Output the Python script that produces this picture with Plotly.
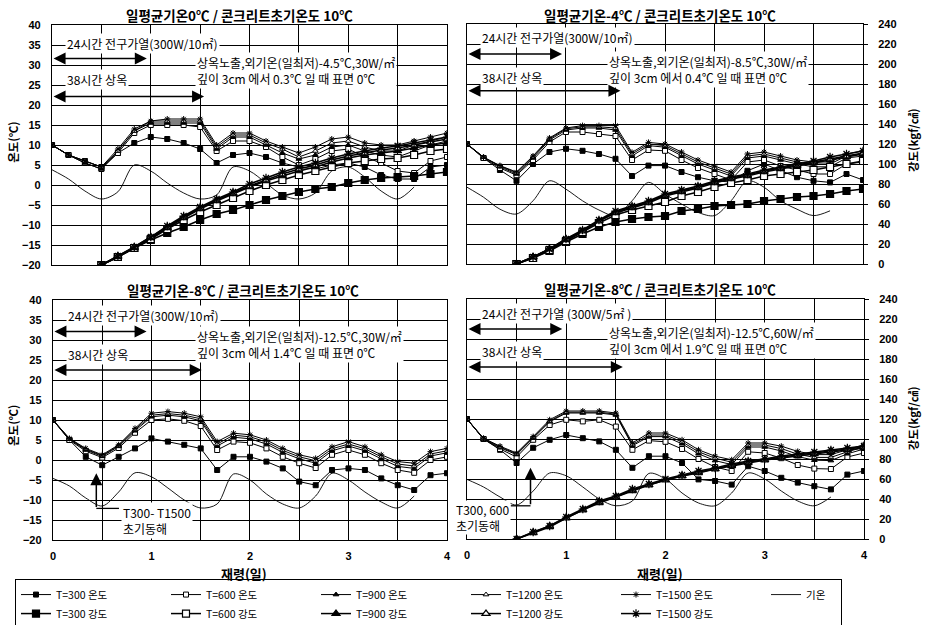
import plotly.graph_objects as go

# ---------------- data ----------------
days = [0, 0.167, 0.333, 0.5, 0.667, 0.833, 1.0, 1.167, 1.333, 1.5, 1.667, 1.833, 2.0,
        2.167, 2.333, 2.5, 2.667, 2.833, 3.0, 3.167, 3.333, 3.5, 3.667, 3.833, 4.0]
series_names = ["T=300", "T=600", "T=900", "T=1200", "T=1500"]

# panel 1 : 일평균기온 0℃
p1_air = [3.8, 1.5, -1.5, -3.5, -1.7, 5.0, 3.5, 0.5, -2.0, -3.5, -2.5, 4.5, 3.5, 0.5, -2.5, -3.5, -2.0, 3.5, 4.5, 2.0, -1.5, -3.5, -0.5]
p1_temp_300 = [10, 7.5, 6, 4.5, 8, 10.5, 12, 11.5, 10.5, 9, 5.5, 7.5, 8, 7, 5.5, 4.5, 4, 5, 5.5, 4.5, 2.5, 1.5, 1.5, 4.5, 5]
p1_temp_600 = [10, 7.5, 5.5, 4, 8, 13, 15, 15, 15, 14.5, 8.5, 11, 11, 9.5, 7, 5, 6.5, 8.5, 9, 7, 5.5, 3.5, 3, 6, 7]
p1_temp_900 = [10, 7.5, 5.5, 4, 8.5, 13.5, 15.5, 15.5, 15.5, 15.5, 9, 12, 12, 10, 8, 6.5, 7.5, 9.5, 10, 8.5, 7.5, 7, 8.5, 10, 11]
p1_temp_1200 = [10, 7.5, 6, 4.5, 8.5, 13.5, 16, 16, 16, 16, 9.5, 12.5, 12.5, 10.5, 9, 7, 8.5, 10.5, 11, 9.5, 8.5, 8.5, 10, 11, 12]
p1_temp_1500 = [10, 7.5, 6, 4.5, 9, 14, 16, 16.5, 16.5, 16.5, 10, 13, 13, 11, 9.5, 8, 9.5, 11.5, 12, 10.5, 10, 10, 11, 12, 13]
p1_str_300 = [0, 8, 17, 25, 32, 38, 45, 51, 55, 60, 65, 69, 73, 76, 78, 82, 85, 87, 88, 89, 91, 93]
p1_str_600 = [0, 8, 17, 26, 36, 45, 53, 60, 67, 74, 80, 85, 90, 94, 98, 102, 104, 106, 107, 110, 114, 116]
p1_str_900 = [0, 8, 17, 27, 37, 47, 56, 64, 71, 78, 84, 89, 94, 98, 103, 107, 110, 112, 114, 117, 120, 122]
p1_str_1200 = [0, 9, 18, 28, 38, 48, 57, 65, 72, 79, 85, 91, 96, 100, 105, 109, 112, 115, 117, 120, 123, 126]
p1_str_1500 = [0, 9, 18, 28, 39, 49, 58, 66, 73, 81, 87, 93, 98, 102, 107, 111, 114, 117, 119, 122, 125, 128]

# panel 2 : 일평균기온 -4℃
p2_air = [-0.8, -3.3, -6.3, -7.5, -4.2, 0.8, -1.3, -4.2, -6.5, -7.9, -4.2, 0.4, -2.5, -5.0, -7.1, -7.9, -4.2, 0.8, -0.8, -4.2, -6.3, -7.9, -6.7]
p2_temp_300 = [10, 6.5, 3.5, 0.8, 5, 8, 8.8, 8.3, 7.5, 6.3, 2, 4.6, 4.6, 3, 1.7, 0.8, 0.5, 3.3, 5, 3.3, 1.7, 0.8, 0.4, 2.5, 1]
p2_temp_600 = [10, 6.5, 4, 2.2, 6, 10.5, 13, 13, 12.5, 12, 6, 8.5, 8.3, 6, 4, 2.5, 1, 5.5, 6, 4.5, 3.5, 2.5, 2.5, 5, 5.5]
p2_temp_900 = [10, 6.7, 4.3, 2.5, 6.5, 11, 13.5, 14, 14, 13.5, 7, 9.6, 9.2, 7, 5, 3.5, 2, 6.5, 7, 6, 5, 4.3, 4.3, 6.5, 7]
p2_temp_1200 = [10, 6.7, 4.5, 2.8, 6.8, 11.3, 13.8, 14.3, 14.3, 14, 7.5, 10, 9.6, 7.5, 5.5, 4, 2.5, 7, 7.5, 6.5, 5.5, 5, 5, 7, 7.5]
p2_temp_1500 = [10, 6.7, 4.6, 3, 7, 11.5, 14, 14.6, 14.6, 14.6, 7.9, 10.4, 10, 8, 6, 4.5, 3, 7.5, 8, 7, 6, 5.5, 5.5, 7.5, 8.3]
p2_str_300 = [0, 6, 13, 22, 30, 37, 42, 45, 47, 48, 53, 55, 58, 59, 60, 63, 65, 67, 68, 70, 73, 75]
p2_str_600 = [0, 6, 14, 23, 32, 41, 49, 54, 58, 62, 68, 72, 77, 81, 84, 88, 90, 92, 94, 97, 100, 103]
p2_str_900 = [0, 7, 15, 24, 33, 43, 51, 56, 61, 68, 72, 76, 81, 85, 88, 92, 95, 98, 101, 104, 107, 110]
p2_str_1200 = [0, 7, 15, 25, 33, 43, 52, 57, 62, 69, 73, 77, 82, 86, 89, 93, 96, 99, 102, 105, 108, 111]
p2_str_1500 = [0, 7, 15, 25, 34, 44, 53, 58, 63, 70, 74, 78, 83, 87, 90, 94, 97, 100, 103, 107, 110, 113]

# panel 3 : 일평균기온 -8℃ (30W)  -- 강도 없음 (초기동해)
p3_air = [-4.6, -6.5, -9.5, -11.5, -8.0, -3.2, -4.2, -7.0, -10.0, -12.0, -11.0, -3.5, -5.0, -8.5, -11.0, -12.0, -9.0, -3.3, -5.0, -8.0, -10.5, -12.0, -9.0]
p3_temp_300 = [10, 5, 0.8, -1.3, 0.8, 2.9, 5.4, 4.6, 3.8, 2.9, -2.5, 0.8, 0.8, -0.4, -2.1, -5.4, -6.3, -2.5, -2.1, -2.5, -4.6, -6.3, -7.5, -3.8, -3.3]
p3_temp_600 = [10, 5, 2.2, 0.6, 3, 6.8, 10, 10.3, 9.8, 8.5, 2.5, 4.6, 4.3, 2.9, 0.8, -0.8, -2, 1.3, 2.5, 1.3, -0.8, -2.5, -3.2, 0, 0.8]
p3_temp_900 = [10, 5.2, 2.5, 0.9, 3.4, 7.3, 10.8, 11.2, 10.8, 9.8, 3.5, 5.7, 5.3, 4, 1.9, 0.3, -0.8, 2.3, 3.5, 2.3, 0.3, -1.6, -2.1, 1, 1.8]
p3_temp_1200 = [10, 5.3, 2.7, 1.1, 3.6, 7.6, 11.2, 11.6, 11.2, 10.3, 4, 6.2, 5.8, 4.5, 2.4, 0.8, -0.2, 2.8, 4, 2.8, 0.8, -1, -1.5, 1.5, 2.3]
p3_temp_1500 = [10, 5.4, 2.9, 1.3, 3.8, 7.9, 11.7, 12.1, 11.7, 10.8, 4.6, 6.7, 6.3, 5, 2.9, 1.3, 0.4, 3.3, 4.6, 3.3, 1.3, -0.4, -0.8, 2.1, 2.9]

# panel 4 : 일평균기온 -8℃ (60W)  -- T300, T600 강도 없음
p4_air = [-5.1, -7.0, -9.5, -11.5, -8.0, -3.5, -4.2, -7.0, -10.0, -11.7, -10.5, -3.6, -5.0, -8.5, -11.0, -11.7, -8.5, -3.5, -5.0, -8.0, -10.5, -11.7, -9.5]
p4_temp_300 = [10, 5, 2.3, -1, 2.8, 4.8, 6, 5.2, 4.4, 2.3, -2.2, 0.7, 0.7, -1, -5.1, -5.5, -6.4, -1.8, -3, -4.7, -5.9, -6.8, -7.6, -3.9, -3]
p4_temp_600 = [10, 5, 2.5, 0.5, 4.8, 8.5, 9.8, 9.4, 9.8, 8.1, 2.3, 4.6, 4.3, 2.5, 0, -2, -3, 1.8, 1.5, 0.2, -1.5, -2.4, -2.5, 0.5, 1.5]
p4_temp_900 = [10, 5, 2.8, 1.1, 5.2, 9.3, 11.5, 11.5, 11.5, 11, 3.3, 5.6, 5.6, 3.8, 1.3, -0.4, -1.4, 3, 3, 2, 0.6, -0.3, -0.4, 1.3, 2.5]
p4_temp_1200 = [10, 5.1, 3, 1.3, 5.4, 9.5, 11.7, 11.7, 11.7, 11.2, 3.6, 6, 6, 4.3, 1.8, 0.2, -0.8, 3.5, 3.5, 2.6, 1.2, 0.4, 0.4, 1.8, 3]
p4_temp_1500 = [10, 5.2, 3.2, 1.5, 5.6, 9.8, 12, 12, 12, 11.5, 4, 6.5, 6.5, 4.8, 2.3, 0.7, -0.2, 4, 4, 3.2, 1.9, 1.1, 1.1, 2.3, 3.6]
p4_str_900 = [0, 6, 12, 21, 29, 36, 42, 48, 54, 59, 63, 66, 70, 73, 76, 79, 81, 83, 85, 87, 89, 91]
p4_str_1200 = [0, 6.5, 13, 21, 29, 37, 42, 49, 54, 59, 63, 67, 70, 74, 77, 79, 82, 84, 86, 88, 90, 92]
p4_str_1500 = [0, 7, 13, 22, 30, 38, 43, 50, 55, 60, 64, 68, 71, 75, 78, 80, 83, 85, 87, 89, 91, 93]

titles = ["일평균기온0℃ / 콘크리트초기온도 10℃", "일평균기온-4℃ / 콘크리트초기온도 10℃",
          "일평균기온-8℃ / 콘크리트초기온도 10℃", "일평균기온-8℃ / 콘크리트초기온도 10℃"]
heat_texts = ["24시간 전구가열(300W/10㎡)", "24시간 전구가열(300W/10㎡)",
              "24시간 전구가열(300W/10㎡)", "24시간 전구가열 (300W/5㎡ )"]
exp_texts = ["상옥노출,외기온(일최저)-4.5℃,30W/㎡", "상옥노출,외기온(일최저)-8.5℃,30W/㎡",
             "상옥노출,외기온(일최저)-12.5℃,30W/㎡", "상옥노출,외기온(일최저)-12.5℃,60W/㎡"]
depth_texts = ["깊이 3cm 에서 0.3℃ 일 때 표면 0℃", "깊이 3cm 에서 0.4℃ 일 때 표면 0℃",
               "깊이 3cm 에서 1.4℃ 일 때 표면 0℃", "깊이 3cm 에서 1.9℃ 일 때 표면 0℃"]
x_ticks = [0, 0.5, 1, 1.5, 2, 2.5, 3, 3.5, 4]
x_ticktext = ["0", "", "1", "", "2", "", "3", "", "4"]

panels = [
    dict(air=p1_air, temps=[p1_temp_300, p1_temp_600, p1_temp_900, p1_temp_1200, p1_temp_1500],
         strs=[p1_str_300, p1_str_600, p1_str_900, p1_str_1200, p1_str_1500]),
    dict(air=p2_air, temps=[p2_temp_300, p2_temp_600, p2_temp_900, p2_temp_1200, p2_temp_1500],
         strs=[p2_str_300, p2_str_600, p2_str_900, p2_str_1200, p2_str_1500]),
    dict(air=p3_air, temps=[p3_temp_300, p3_temp_600, p3_temp_900, p3_temp_1200, p3_temp_1500],
         strs=[None, None, None, None, None]),
    dict(air=p4_air, temps=[p4_temp_300, p4_temp_600, p4_temp_900, p4_temp_1200, p4_temp_1500],
         strs=[None, None, p4_str_900, p4_str_1200, p4_str_1500]),
]

# ---------------- styling ----------------
KR = "Noto Sans CJK KR"
NUM = "Liberation Sans"
symbols = ["square", "square", "triangle-up", "triangle-up", "asterisk-open"]
fills = ["black", "white", "black", "white", "black"]

x_domains = [[0.0562, 0.4827], [0.5043, 0.9320], [0.0572, 0.4827], [0.5043, 0.9330]]
y_domains = [[0.576, 0.960], [0.5776, 0.9616], [0.136, 0.520], [0.1376, 0.5216]]

fig = go.Figure()
layout = dict(width=926, height=625, margin=dict(l=0, r=0, t=0, b=0, autoexpand=False),
              paper_bgcolor="white", plot_bgcolor="white", showlegend=True)

tickfont = dict(family=NUM, size=11, color="black", weight="bold")

for k, p in enumerate(panels):
    xa = "x" if k == 0 else f"x{k + 1}"
    yt = "y" if k == 0 else f"y{2 * k + 1}"
    ys = f"y{2 * k + 2}"
    first = (k == 0)
    for j, name in enumerate(series_names):
        fig.add_trace(go.Scatter(
            x=days, y=p["temps"][j], xaxis=xa, yaxis=yt, mode="lines+markers",
            name=f"{name} 온도", legendgroup=f"t{j}", showlegend=first, legendrank=j + 1,
            line=dict(color="black", width=1),
            marker=dict(symbol=symbols[j], size=5, color=fills[j],
                        line=dict(color="black", width=1))))
    fig.add_trace(go.Scatter(
        x=days[:len(p["air"])], y=p["air"], xaxis=xa, yaxis=yt, mode="lines",
        name="기온", legendgroup="air", showlegend=first, legendrank=6, legendwidth=30,
        line=dict(color="black", width=0.9, shape="spline", smoothing=0.9)))
    for j, name in enumerate(series_names):
        s = p["strs"][j]
        if s is None:
            continue
        fig.add_trace(go.Scatter(
            x=days[3:], y=s, xaxis=xa, yaxis=ys, mode="lines+markers",
            name=f"{name} 강도", legendgroup=f"s{j}", showlegend=first, legendrank=7 + j,
            line=dict(color="black", width=1.5),
            marker=dict(symbol=symbols[j], size=7, color=fills[j],
                        line=dict(color="black", width=1.2))))

    xkey = "xaxis" if k == 0 else f"xaxis{k + 1}"
    ytkey = "yaxis" if k == 0 else f"yaxis{2 * k + 1}"
    yskey = f"yaxis{2 * k + 2}"
    bottom = k >= 2
    left = k % 2 == 0
    layout[xkey] = dict(domain=x_domains[k], anchor=yt, range=[0, 4], tickvals=x_ticks,
                        ticktext=x_ticktext, showticklabels=bottom, ticks="",
                        ticklabelstandoff=6, tickfont=tickfont, automargin=False,
                        showgrid=True, gridcolor="black", gridwidth=0.8, zeroline=False,
                        showline=True, mirror=True, linecolor="black", linewidth=1.3)
    layout[ytkey] = dict(domain=y_domains[k], anchor=xa, range=[-20, 40], dtick=5,
                         showticklabels=left, ticks="", ticklabelstandoff=8, tickfont=tickfont,
                         automargin=False,
                         showgrid=True, gridcolor="black", gridwidth=0.8, zeroline=False,
                         showline=True, mirror=True, linecolor="black", linewidth=1.3)
    layout[yskey] = dict(overlaying=yt, anchor=xa, side="right", range=[0, 240], dtick=20,
                         showticklabels=not left, ticks="" if left else "outside", ticklen=4,
                         tickcolor="black", ticklabelstandoff=8, tickfont=tickfont,
                         automargin=False,
                         showgrid=False, zeroline=False, showline=False)

layout["legend"] = dict(orientation="h", x=0.0162, y=0.0735, xanchor="left", yanchor="top",
                        bordercolor="black", borderwidth=1, bgcolor="white",
                        entrywidth=105, entrywidthmode="pixels", traceorder="normal",
                        font=dict(family=KR, size=10.5, color="black"), itemwidth=30,
                        tracegroupgap=0)

ann = []
title_pos = [(0.259, 0.976), (0.713, 0.976), (0.262, 0.536), (0.713, 0.5376)]
for k, (tx, ty) in enumerate(title_pos):
    ann.append(dict(text=titles[k], x=tx, y=ty, xref="paper", yref="paper", showarrow=False,
                    xanchor="center", yanchor="middle",
                    font=dict(family=KR, size=13.5, color="black", weight="bold")))
for (tx, ty, txt) in [(0.014, 0.773, "온도(℃)"), (0.014, 0.32, "온도(℃)"),
                      (0.986, 0.776, "강도(kgf/㎠)"), (0.986, 0.331, "강도(kgf/㎠)")]:
    ann.append(dict(text=txt, x=tx, y=ty, xref="paper", yref="paper", showarrow=False,
                    xanchor="center", yanchor="middle", textangle=-90,
                    font=dict(family=KR, size=11.5, color="black", weight="bold")))
for tx in [0.263, 0.713]:
    ann.append(dict(text="재령(일)", x=tx, y=0.083, xref="paper", yref="paper", showarrow=False,
                    xanchor="center", yanchor="middle",
                    font=dict(family=KR, size=13, color="black", weight="bold")))

txt_font = dict(family=KR, size=12, color="black")
heat_y = [35.4, 36.5, 36.2, 36.3]
arr1_y = [31.6, 32.5, 32.1, 32.5]
cure_y = [26.3, 26.7, 26.3, 26.8]
arr2_y = [22.1, 23.3, 22.5, 23.0]
arr1_end = [0.96, 0.96, 0.95, 0.96]
arr2_end = [1.54, 1.55, 1.51, 1.57]
exp_y = [30.4, 30.4, 30.8, 31.7]
dep_y = [26.7, 27.1, 27.1, 27.6]
text_x = [1.45, 1.41, 1.44, 1.41]
for k in range(4):
    xa = "x" if k == 0 else f"x{k + 1}"
    yt = "y" if k == 0 else f"y{2 * k + 1}"
    ann.append(dict(text=heat_texts[k], x=0.13, y=heat_y[k], xref=xa, yref=yt, xanchor="left",
                    showarrow=False, bgcolor="white", font=txt_font))
    ann.append(dict(text="38시간 상옥", x=0.13, y=cure_y[k], xref=xa, yref=yt, xanchor="left",
                    showarrow=False, bgcolor="white", font=txt_font))
    ann.append(dict(text=exp_texts[k] + "<br>" + depth_texts[k], x=text_x[k],
                    y=(exp_y[k] + dep_y[k]) / 2, xref=xa, yref=yt, xanchor="left", align="left",
                    showarrow=False, bgcolor="white", font=txt_font))
    for (ye, xe) in [(arr1_y[k], arr1_end[k]), (arr2_y[k], arr2_end[k])]:
        ann.append(dict(text="", x=xe, y=ye, ax=0.0, ay=ye, xref=xa, yref=yt, axref=xa, ayref=yt,
                        showarrow=True, arrowside="end+start", arrowhead=2, startarrowhead=2,
                        arrowsize=1.6, startarrowsize=1.6, arrowwidth=1.5, arrowcolor="black"))

ann.append(dict(text="", x=0.44, y=-3.3, ax=0.44, ay=-12.1, xref="x3", yref="y5", axref="x3",
                ayref="y5", showarrow=True, arrowhead=2, arrowsize=1.6, arrowwidth=1.5,
                arrowcolor="black"))
ann.append(dict(text="T300- T1500<br>초기동해", x=0.69, y=-15.2, xref="x3", yref="y5",
                xanchor="left", align="left", showarrow=False, bgcolor="white", font=txt_font))
ann.append(dict(text="", x=0.64, y=-2.2, ax=0.64, ay=-11.7, xref="x4", yref="y7", axref="x4",
                ayref="y7", showarrow=True, arrowhead=2, arrowsize=1.6, arrowwidth=1.5,
                arrowcolor="black"))
ann.append(dict(text="T300, 600<br>초기동해", x=0.44, y=-14.7, xref="x4", yref="y7",
                xanchor="right", align="left", showarrow=False, bgcolor="white", font=txt_font,
                borderpad=0))
layout["annotations"] = ann
layout["shapes"] = [
    dict(type="line", xref="x3", yref="y5", x0=0.44, x1=0.67, y0=-12.1, y1=-12.1,
         line=dict(color="black", width=1.3)),
    dict(type="line", xref="x4", yref="y7", x0=0.44, x1=0.64, y0=-11.7, y1=-11.7,
         line=dict(color="black", width=1.3)),
]

fig.update_layout(**layout)
fig.write_html("out.html", config={"displayModeBar": False},
               post_script="document.body.style.margin='0px';")
